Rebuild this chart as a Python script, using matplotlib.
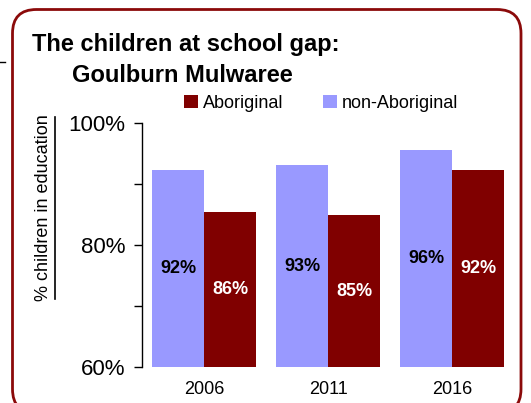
import matplotlib
matplotlib.use("Agg")
import matplotlib.pyplot as plt
from matplotlib.patches import FancyBboxPatch
from matplotlib.lines import Line2D
import numpy as np

plt.rcParams['font.family'] = ['Liberation Sans', 'DejaVu Sans']

years = ["2006", "2011", "2016"]
aboriginal = [85.4, 84.9, 92.3]
non_aboriginal = [92.3, 93.1, 95.6]
ab_labels = ["86%", "85%", "92%"]
non_labels = ["92%", "93%", "96%"]
yticks = [60, 70, 80, 90, 100]
ytick_labels = ["60%", "", "80%", "", "100%"]

ab_color = "#800000"
non_color = "#9999FF"
border_color = "#8B0A0A"

W, H = 531, 403
fig = plt.figure(figsize=(W / 100, H / 100), dpi=100)

# rounded border
box = FancyBboxPatch((12.5 / W, -10 / H), (521 - 12.5) / W, (H - 9.5 + 10) / H,
                     boxstyle="round,pad=0,rounding_size=0.045",
                     transform=fig.transFigure, fill=False,
                     edgecolor=border_color, linewidth=2.0, mutation_aspect=W / H)
fig.add_artist(box)
fig.add_artist(Line2D([0 / W, 5 / W], [1 - 62 / H, 1 - 62 / H], transform=fig.transFigure,
                      color="black", linewidth=1))

ax = fig.add_axes([142 / W, 1 - 367 / H, (514 - 142) / W, (367 - 123) / H])
x = np.arange(len(years))
w = 52 / 124
b1 = ax.bar(x - w / 2, [v - 60 for v in non_aboriginal], w, bottom=60, color=non_color,
            label="non-Aboriginal")
b2 = ax.bar(x + w / 2, [v - 60 for v in aboriginal], w, bottom=60, color=ab_color,
            label="Aboriginal")

for i in range(len(years)):
    ax.text(x[i] - w / 2, (non_aboriginal[i] + 60) / 2, non_labels[i], ha="center", va="center",
            fontsize=13, fontweight="bold", color="black")
    ax.text(x[i] + w / 2, (aboriginal[i] + 60) / 2, ab_labels[i], ha="center", va="center",
            fontsize=13, fontweight="bold", color="white")

ax.set_xlim(-0.5, 2.5)
ax.set_ylim(60, 100)
ax.set_yticks(yticks)
ax.set_yticklabels(ytick_labels, fontsize=16)
ax.tick_params(axis="y", direction="out", length=6, width=1, pad=6)
ax.set_xticks(x)
ax.set_xticklabels(years, fontsize=13)
ax.tick_params(axis="x", length=0, pad=10)
for s in ["top", "right", "bottom"]:
    ax.spines[s].set_visible(False)
ax.spines["left"].set_linewidth(1)

# y label with underline
fig.text(44 / W, 1 - 208 / H, "% children in education", rotation=90, ha="center", va="center",
         fontsize=13)
fig.add_artist(Line2D([55 / W, 55 / W], [1 - 117 / H, 1 - 299 / H], transform=fig.transFigure,
                      color="black", linewidth=1.2))

fig.text(32 / W, 1 - 45 / H, "The children at school gap:", fontsize=17, fontweight="bold",
         ha="left", va="center")
fig.text(72 / W, 1 - 75 / H, "Goulburn Mulwaree", fontsize=17, fontweight="bold",
         ha="left", va="center")

# legend
fig.legend(handles=[b2, b1], labels=["Aboriginal", "non-Aboriginal"], loc="center left",
           bbox_to_anchor=(184 / W, 1 - 103 / H), ncol=2, frameon=False, fontsize=13,
           handlelength=0.75, handleheight=0.75, handletextpad=0.3, columnspacing=2.2,
           borderpad=0, borderaxespad=0)

fig.savefig("out.png", dpi=100)
